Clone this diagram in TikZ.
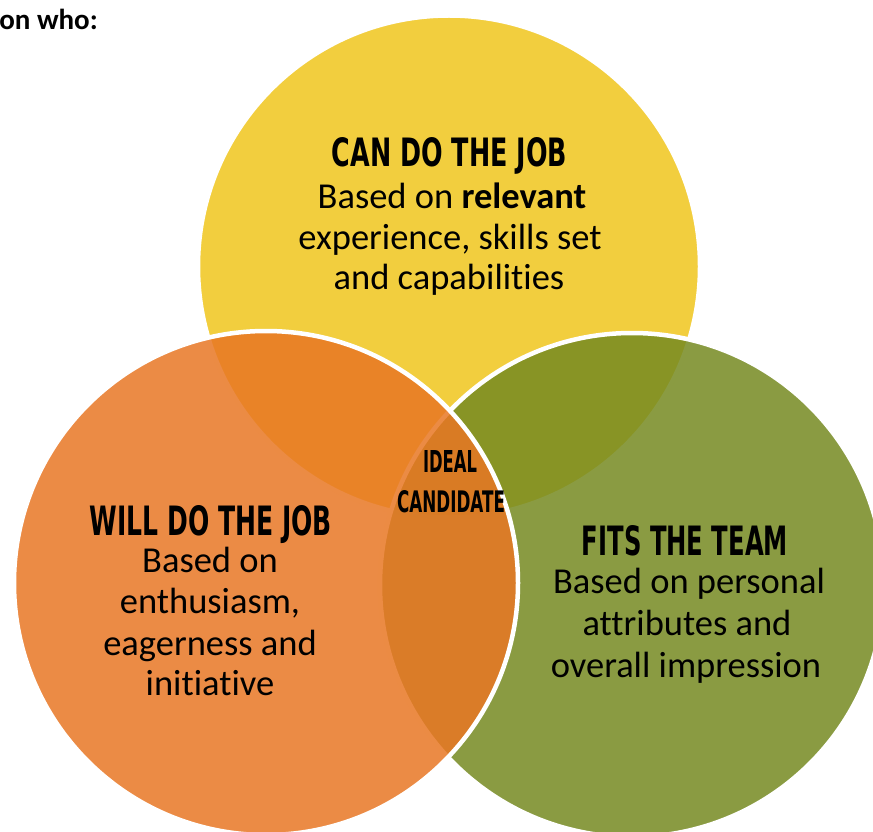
\documentclass[tikz,border=0pt]{standalone}
\usepackage{fontspec}
\setmainfont{Carlito}[Ligatures={NoCommon,NoContextual}]
\newfontfamily\ttlfont{DejaVu Sans}
\usepackage{graphicx}
\definecolor{cyel}{RGB}{242,206,62}
\definecolor{cgrn}{RGB}{118,138,33}
\definecolor{corg}{RGB}{232,119,36}
\newcommand{\ttl}[3]{\resizebox{#1pt}{#2pt}{\ttlfont\bfseries #3}}
\tikzset{
  ring/.style={draw=white, line width=4.5pt},
  body/.style={anchor=base, inner sep=0pt, font=\fontsize{36.5}{40}\selectfont},
  head/.style={anchor=base, inner sep=0pt}
}
\begin{document}
\begin{tikzpicture}[x=1pt,y=1pt]
\useasboundingbox (0,0) rectangle (873,-832);
\clip (0,0) rectangle (873,-832);
% circles
\path[ring, fill=cyel] (449,-266.5) circle (251);
\path[ring, fill=cgrn, fill opacity=0.85] (632,-585) circle (252);
\path[ring, fill=corg, fill opacity=0.85] (266,-583) circle (252);
% top-left text
\node[anchor=base east, inner sep=0pt, font=\fontsize{29}{32}\selectfont\bfseries] (who) at (98,-30) {on who:};
% yellow
\node[head] (t1) at (449.5,-167) {\ttl{235}{29}{CAN DO THE JOB}};
\node[body] (y1) at (452,-208) {Based on \textbf{relevant}};
\node[body] (y2) at (450,-249) {experience, skills set};
\node[body] (y3) at (449,-289) {and capabilities};
% orange
\node[head] (t2) at (211,-535) {\ttl{242}{30}{WILL DO THE JOB}};
\node[body] (o1) at (210,-572) {Based on};
\node[body] (o2) at (210,-613) {enthusiasm,};
\node[body] (o3) at (210,-655) {eagerness and};
\node[body] (o4) at (210,-695) {initiative};
% green
\node[head] (t3) at (685,-555) {\ttl{206}{30}{FITS THE TEAM}};
\node[body] (g1) at (689,-593) {Based on personal};
\node[body] (g2) at (687,-635) {attributes and};
\node[body] (g3) at (686,-677) {overall impression};
% center
\node[head] (i1) at (450,-472) {\ttl{54}{22}{IDEAL}};
\node[head] (i2) at (451,-512) {\ttl{108}{22}{CANDIDATE}};
\end{tikzpicture}
\end{document}
